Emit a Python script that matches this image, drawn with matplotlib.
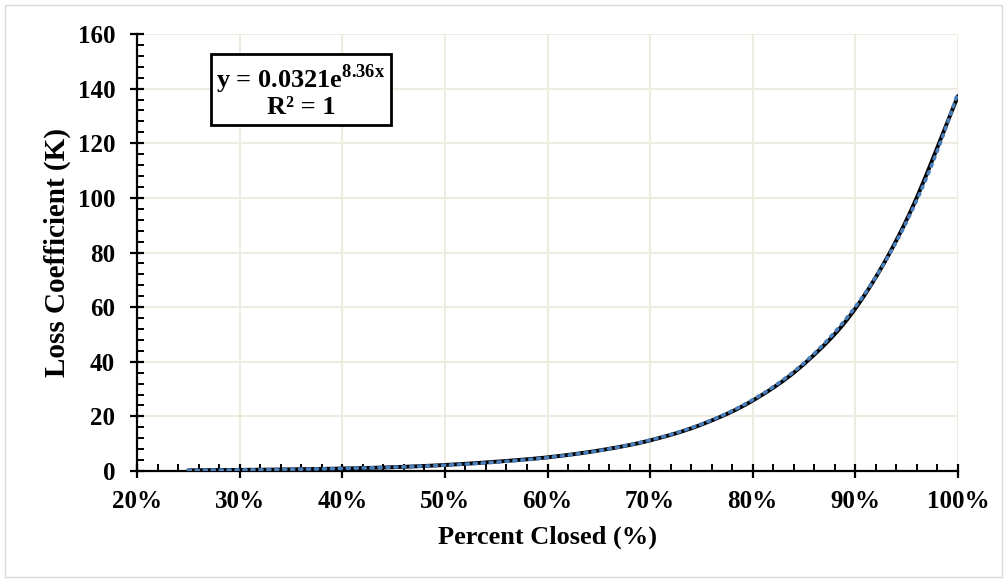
import numpy as np
import matplotlib
matplotlib.use("Agg")
import matplotlib.pyplot as plt
from matplotlib.ticker import MultipleLocator, FuncFormatter
from matplotlib.patches import Rectangle

# data
pct_closed = [0.25, 0.30, 0.35, 0.40, 0.45, 0.50, 0.55, 0.60, 0.65, 0.70,
              0.75, 0.80, 0.85, 0.90, 0.95, 1.00]
loss_k = [0.26, 0.39, 0.60, 0.90, 1.40, 2.20, 3.40, 5.00, 7.50, 11.2,
          17.0, 25.8, 39.2, 59.5, 92.0, 137.3]
eq_text = "y = 0.0321e$^{\\mathbf{8.36x}}$\nR² = 1"

plt.rcParams['font.family'] = ['Liberation Serif', 'DejaVu Serif']
plt.rcParams['mathtext.fontset'] = 'custom'
plt.rcParams['mathtext.rm'] = 'Liberation Serif:bold'
plt.rcParams['mathtext.bf'] = 'Liberation Serif:bold'


def catmull_rom(xs, ys, n=20):
    """Smooth drawing path through the points (like a smoothed line)."""
    xs = np.asarray(xs, float)
    ys = np.asarray(ys, float)
    P = np.column_stack([xs, ys])
    P = np.vstack([P[0] * 2 - P[1], P, P[-1] * 2 - P[-2]])
    out = []
    t = np.linspace(0, 1, n, endpoint=False)[:, None]
    for i in range(1, len(P) - 2):
        p0, p1, p2, p3 = P[i - 1], P[i], P[i + 1], P[i + 2]
        seg = 0.5 * ((2 * p1) + (-p0 + p2) * t + (2 * p0 - 5 * p1 + 4 * p2 - p3) * t ** 2
                     + (-p0 + 3 * p1 - 3 * p2 + p3) * t ** 3)
        out.append(seg)
    out.append(P[-2][None, :])
    out = np.vstack(out)
    return out[:, 0], out[:, 1]


fig = plt.figure(figsize=(10.07, 5.82), dpi=100)
ax = fig.add_axes([137/1007, 1-471/582, (958-137)/1007, (471-34)/582])

# outer chart border
fig.patches.append(Rectangle((5/1007, 5/582), 997/1007, 572/582, transform=fig.transFigure,
                             fill=False, edgecolor='#d9d9d9', lw=1))

x = np.array(pct_closed)
y = np.array(loss_k)
sx, sy = catmull_rom(x, y)
ax.plot(sx, sy, color='black', lw=2.8, solid_capstyle='round', zorder=3)

# exponential trendline (least squares on log)
b, lna = np.polyfit(x, np.log(y), 1)
xt = np.linspace(x.min(), x.max(), 400)
ax.plot(xt, np.exp(lna) * np.exp(b * xt), color='#4a7ebb', lw=2.6,
        linestyle=(0, (0.6, 1.6)), dash_capstyle='round', zorder=4)

ax.set_xlim(0.2, 1.0)
ax.set_ylim(0, 160)
ax.xaxis.set_major_locator(MultipleLocator(0.1))
ax.xaxis.set_minor_locator(MultipleLocator(0.02))
ax.yaxis.set_major_locator(MultipleLocator(20))
ax.yaxis.set_minor_locator(MultipleLocator(4))
ax.xaxis.set_major_formatter(FuncFormatter(lambda v, p: f"{v*100:.0f}%"))

ax.grid(True, which='major', color='#eeebe0', lw=1.5, zorder=0)
ax.set_axisbelow(True)
for s in ['top', 'right']:
    ax.spines[s].set_visible(False)
for s in ['left', 'bottom']:
    ax.spines[s].set_linewidth(1.6)
    ax.spines[s].set_color('black')

ax.tick_params(which='major', direction='inout', length=9.5, width=1.6, labelsize=18)
ax.tick_params(axis='x', which='major', pad=9)
ax.tick_params(axis='y', which='major', pad=11)
ax.tick_params(which='minor', direction='in', length=5, width=1.4)
for lab in ax.get_xticklabels() + ax.get_yticklabels():
    lab.set_fontweight('bold')

ax.set_xlabel("Percent Closed (%)", fontsize=19, fontweight='bold', labelpad=9)
ax.set_ylabel("Loss Coefficient (K)", fontsize=21, fontweight='bold', labelpad=5)

ax.text(0.2 + (301-137)/821*0.8, 160 - (91-34)/437*160, eq_text, ha='center', va='center',
        fontsize=19, fontweight='bold', linespacing=1.0,
        bbox=dict(boxstyle='square,pad=0.22', fc='white', ec='black', lw=2), zorder=5)

fig.savefig("out.png", dpi=100)
